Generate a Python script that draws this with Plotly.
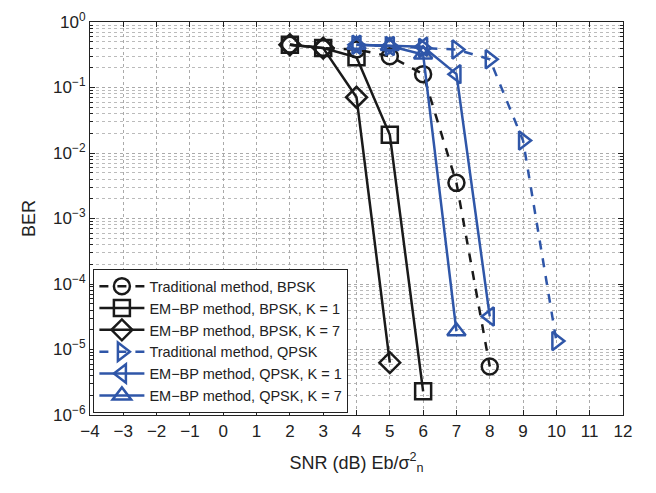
import plotly.graph_objects as go

snr_trad_bpsk = [2, 3, 4, 5, 6, 7, 8]
ber_trad_bpsk = [0.45, 0.40, 0.38, 0.30, 0.16, 3.5e-3, 5.5e-6]

snr_em_bpsk_k1 = [2, 3, 4, 5, 6]
ber_em_bpsk_k1 = [0.45, 0.40, 0.29, 0.019, 2.3e-6]

snr_em_bpsk_k7 = [2, 3, 4, 5]
ber_em_bpsk_k7 = [0.45, 0.40, 0.071, 6.3e-6]

snr_trad_qpsk = [4, 5, 6, 7, 8, 9, 10]
ber_trad_qpsk = [0.45, 0.43, 0.40, 0.38, 0.27, 0.0155, 1.35e-5]

snr_em_qpsk_k1 = [4, 5, 6, 7, 8]
ber_em_qpsk_k1 = [0.45, 0.43, 0.42, 0.16, 3.2e-5]

snr_em_qpsk_k7 = [4, 5, 6, 7]
ber_em_qpsk_k7 = [0.45, 0.43, 0.32, 1.9e-5]

names = ["Traditional method, BPSK", "EM\u2212BP method, BPSK, K = 1", "EM\u2212BP method, BPSK, K = 7",
         "Traditional method, QPSK", "EM\u2212BP method, QPSK, K = 1", "EM\u2212BP method, QPSK, K = 7"]

x_ticks = list(range(-4, 13))
y_tickvals = [1e0, 1e-1, 1e-2, 1e-3, 1e-4, 1e-5, 1e-6]
y_ticktext = ["10<sup>0</sup>", "10<sup>\u22121</sup>", "10<sup>\u22122</sup>", "10<sup>\u22123</sup>",
              "10<sup>\u22124</sup>", "10<sup>\u22125</sup>", "10<sup>\u22126</sup>"]

BLACK = "#1a1a1a"
BLUE = "#2f56a8"

series = [
    (snr_trad_bpsk, ber_trad_bpsk, BLACK, "dash", "circle-open"),
    (snr_em_bpsk_k1, ber_em_bpsk_k1, BLACK, "solid", "square-open"),
    (snr_em_bpsk_k7, ber_em_bpsk_k7, BLACK, "solid", "diamond-open"),
    (snr_trad_qpsk, ber_trad_qpsk, BLUE, "dash", "triangle-right-open"),
    (snr_em_qpsk_k1, ber_em_qpsk_k1, BLUE, "solid", "triangle-left-open"),
    (snr_em_qpsk_k7, ber_em_qpsk_k7, BLUE, "solid", "triangle-up-open"),
]

fig = go.Figure()
for (x, y, c, dash, sym), nm in zip(series, names):
    fig.add_trace(go.Scatter(
        x=x, y=y, mode="lines+markers", name=nm,
        line=dict(color=c, width=2.5, dash=dash),
        marker=dict(symbol=sym, size=16, color=c, line=dict(color=c, width=2.5)),
    ))

font = "Liberation Sans, Arial, sans-serif"
fig.update_layout(
    width=656, height=493,
    margin=dict(l=82, r=41, t=14, b=86),
    paper_bgcolor="white", plot_bgcolor="white",
    font=dict(family=font, size=16, color="#222"),
    showlegend=True,
    legend=dict(x=0.006, y=0.005, xanchor="left", yanchor="bottom",
                bgcolor="white", bordercolor="#222", borderwidth=1.2,
                font=dict(size=14.5, color="#222"), tracegroupgap=0,
                itemwidth=45),
    xaxis=dict(
        range=[-4, 12], tickvals=x_ticks, ticktext=[str(v).replace("-", "\u2212") for v in x_ticks],
        tickfont=dict(size=17),
        showline=True, linecolor="#222", linewidth=1.2, mirror="ticks",
        ticks="inside", ticklen=5, tickcolor="#222", automargin=False,
        showgrid=True, gridcolor="#aaa", griddash="dot", gridwidth=1,
        zeroline=False, ticklabeloverflow="allow",
        title=dict(text="SNR (dB) Eb/\u03c3<sup>2</sup><sub>n</sub>", font=dict(size=18), standoff=16),
    ),
    yaxis=dict(
        type="log", range=[-6.0002, 0.0002], tickvals=y_tickvals, ticktext=y_ticktext,
        tickfont=dict(size=17),
        showline=True, linecolor="#222", linewidth=1.2, mirror="ticks",
        ticks="inside", ticklen=5, tickcolor="#222", automargin=False,
        ticklabeloverflow="allow",
        showgrid=True, gridcolor="#aaa", griddash="dot", gridwidth=1,
        minor=dict(dtick="D1", ticks="inside", ticklen=3, tickcolor="#222",
                   showgrid=True, gridcolor="#bbb", griddash="dot", gridwidth=1),
        title=dict(text="BER", font=dict(size=18), standoff=12),
    ),
)

fig.write_html("out.html")
